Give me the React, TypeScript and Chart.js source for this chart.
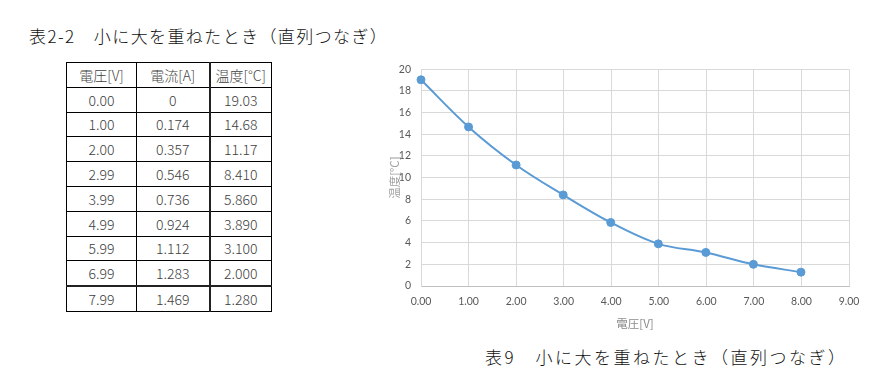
import React, { useEffect, useRef } from "react";
import { Chart, registerables } from "chart.js";
Chart.register(...registerables);

const titleText = "表2-2　小に大を重ねたとき（直列つなぎ）";
const captionText = "表9　小に大を重ねたとき（直列つなぎ）";
const headers = ["電圧[V]", "電流[A]", "温度[°C]"];
const voltage = [0.0, 1.0, 2.0, 2.99, 3.99, 4.99, 5.99, 6.99, 7.99];
const voltageLabels = ["0.00", "1.00", "2.00", "2.99", "3.99", "4.99", "5.99", "6.99", "7.99"];
const currentLabels = ["0", "0.174", "0.357", "0.546", "0.736", "0.924", "1.112", "1.283", "1.469"];
const temperature = [19.03, 14.68, 11.17, 8.41, 5.86, 3.89, 3.1, 2.0, 1.28];
const temperatureLabels = ["19.03", "14.68", "11.17", "8.410", "5.860", "3.890", "3.100", "2.000", "1.280"];
const xAxisTitle = "電圧[V]";
const yAxisTitle = "温度[°C]";

const FONT = '"Noto Sans CJK JP", "Noto Sans", sans-serif';
const TICK_FONT = 'Lato, "Noto Sans CJK JP", sans-serif';

export default function App() {
  const canvasRef = useRef<HTMLCanvasElement | null>(null);

  useEffect(() => {
    if (!canvasRef.current) return;
    const chart = new Chart(canvasRef.current, {
      type: "scatter",
      data: {
        datasets: [
          {
            data: voltage.map((v, i) => ({ x: v, y: temperature[i] })),
            showLine: true,
            clip: false,
            tension: 0.35,
            borderColor: "#5B9BD5",
            backgroundColor: "#5B9BD5",
            borderWidth: 2,
            pointRadius: 4,
            pointBorderWidth: 1,
            pointBackgroundColor: "#5B9BD5",
            pointBorderColor: "#5B9BD5",
          },
        ],
      },
      options: {
        animation: false,
        responsive: false,
        maintainAspectRatio: false,
        layout: { padding: { left: 0, top: 5, right: 21, bottom: 0 } },
        plugins: { legend: { display: false }, tooltip: { enabled: false } },
        scales: {
          x: {
            type: "linear",
            min: 0,
            max: 9,
            afterFit: (s: any) => {
              s.height = 52;
            },
            ticks: {
              stepSize: 1,
              padding: 9,
              color: "#595959",
              font: { size: 10.5, family: TICK_FONT },
              callback: (v: any) => Number(v).toFixed(2),
            },
            grid: { color: "#d9d9d9", drawTicks: false, lineWidth: 1 },
            border: { color: "#bfbfbf" },
            title: {
              display: true,
              text: xAxisTitle,
              color: "#8c8c8c",
              font: { size: 11.5, family: FONT },
              padding: { top: 0, bottom: 7 },
            },
          },
          y: {
            type: "linear",
            min: 0,
            max: 20,
            afterFit: (s: any) => {
              s.width = 51;
            },
            ticks: {
              stepSize: 2,
              padding: 10,
              color: "#595959",
              font: { size: 10.5, family: TICK_FONT },
            },
            grid: { color: "#d9d9d9", drawTicks: false, lineWidth: 1 },
            border: { color: "#d9d9d9" },
            title: {
              display: true,
              text: yAxisTitle,
              color: "#a0a0a0",
              font: { size: 11.5, family: FONT },
              padding: { top: 18, bottom: 0 },
            },
          },
        },
      },
    });
    return () => chart.destroy();
  }, []);

  const cellStyle = (col: number, row: number): React.CSSProperties => ({
    border: "1px solid #000",
    borderRight: col === 1 ? "2px solid #222" : "1px solid #000",
    borderTop: row === 9 ? "2px solid #222" : "1px solid #000",
    padding: 0,
    textAlign: "center",
    height: 23.8,
    lineHeight: "20px",
  });

  const rows = voltageLabels.map((v, i) => [v, currentLabels[i], temperatureLabels[i]]);

  return (
    <div
      style={{
        position: "fixed",
        left: 0,
        top: 0,
        width: 886,
        height: 385,
        background: "#fff",
        fontFamily: FONT,
        color: "#000",
        overflow: "hidden",
      }}
    >
      <div
        style={{
          position: "absolute",
          left: 29,
          top: 25,
          fontSize: 17,
          fontWeight: 300,
          letterSpacing: 1.4,
          lineHeight: "22px",
          whiteSpace: "nowrap",
          color: "#111",
        }}
      >
        {titleText}
      </div>
      <table
        style={{
          position: "absolute",
          left: 66,
          top: 62,
          borderCollapse: "collapse",
          fontSize: 14,
          color: "#404040",
          fontFamily: FONT,
          fontWeight: 300,
        }}
      >
        <colgroup>
          <col style={{ width: 70 }} />
          <col style={{ width: 73 }} />
          <col style={{ width: 62 }} />
        </colgroup>
        <tbody>
          <tr>
            {headers.map((h, c) => (
              <td key={c} style={cellStyle(c, 0)}>
                {h}
              </td>
            ))}
          </tr>
          {rows.map((r, ri) => (
            <tr key={ri}>
              {r.map((t, c) => (
                <td key={c} style={cellStyle(c, ri + 1)}>
                  {t}
                </td>
              ))}
            </tr>
          ))}
        </tbody>
      </table>
      <canvas
        ref={canvasRef}
        width={500}
        height={285}
        style={{ position: "absolute", left: 370, top: 53, width: 500, height: 285 }}
      />
      <div
        style={{
          position: "absolute",
          left: 485,
          top: 346,
          fontSize: 17,
          fontWeight: 300,
          letterSpacing: 2.5,
          lineHeight: "22px",
          whiteSpace: "nowrap",
          color: "#111",
        }}
      >
        {captionText}
      </div>
    </div>
  );
}
